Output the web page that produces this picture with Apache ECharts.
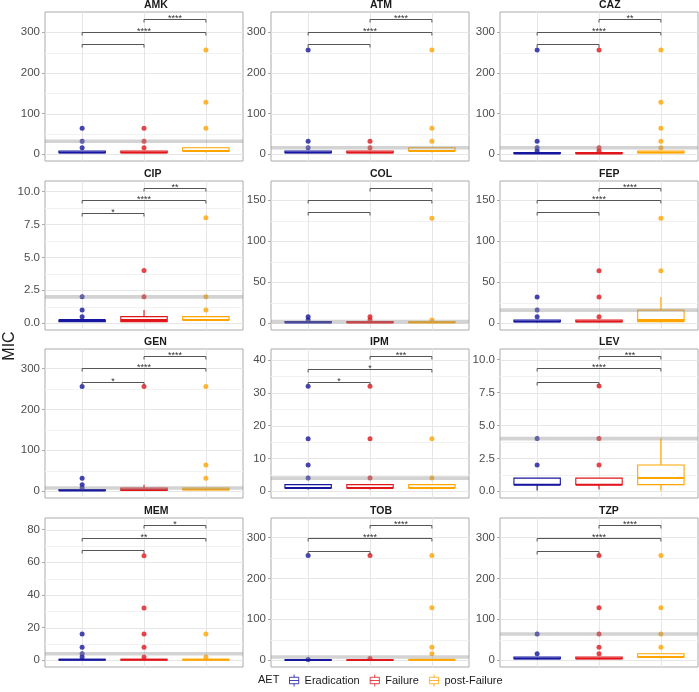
<!DOCTYPE html>
<html><head><meta charset="utf-8">
<script src="https://cdn.jsdelivr.net/npm/echarts@6/dist/echarts.min.js"></script>
<style>html,body{margin:0;padding:0;background:#fff}#c{width:699px;height:692px}</style>
</head><body><div id="c"></div>
<script>
const panels = ['AMK','ATM','CAZ','CIP','COL','FEP','GEN','IPM','LEV','MEM','TOB','TZP'];
const groups = ['Eradication','Failure','post-Failure'];
const groupColors = ['#16169e','#e0161b','#ffa500'];

// box statistics [min, Q1, median, Q3, max] per panel
const boxEradication = [
  [2,4,4,8,8],[2,4,4,8,8],[1,2,2,4,4],[0.125,0.125,0.25,0.25,0.25],[0.5,1,1,2,2],[1,2,2,4,4],
  [1,2,2,4,4],[0.5,1,1,2,2],[0.06,0.5,0.5,1,1],[0.06,0.125,0.25,0.5,1],[0.25,0.5,0.5,1,1],[2,4,4,8,8]];
const boxFailure = [
  [2,4,4,8,8],[2,4,4,8,8],[1,2,2,4,4],[0.125,0.125,0.25,0.5,1],[0.5,1,1,2,2],[1,2,2,4,4],
  [1,2,4,8,16],[0.5,1,1,2,2],[0.125,0.5,0.5,1,1],[0.06,0.125,0.25,0.5,1],[0.25,0.5,0.5,1,1],[2,4,4,8,8]];
const boxPostFailure = [
  [4,8,8,16,16],[4,8,8,16,16],[2,4,4,8,8],[0.25,0.25,0.25,0.5,0.5],[0.5,1,1,2,2],[1,2,4,16,32],
  [2,4,4,8,8],[0.5,1,1,2,2],[0.06,0.5,1,2,4],[0.06,0.125,0.25,0.5,1],[0.25,0.5,1,1,2],[4,8,8,16,16]];

// outlier points per panel
const outEradication = [[16,32,64],[16,32,256],[8,16,32,256],[0.5,1,2],[4,8],[8,16,32],
  [8,16,32,256],[4,8,16,32],[2,4],[2,4,8,16],[2,256],[16,64]];
const outFailure = [[16,32,64],[16,32],[8,16,256],[2,4],[4,8],[8,32,64],
  [256],[4,16,32],[2,4,8],[2,8,16,32,64],[4,256],[16,32,64,128,256]];
const outPostFailure = [[64,128,256],[32,64,256],[16,32,64,128,256],[1,2,8],[4,128],[64,128],
  [32,64,256],[4,16],[],[2,16],[16,32,128,256],[32,64,128,256]];

// clinical breakpoint line per panel
const breakpoints = [32,16,16,2,2,16,8,4,4,4,8,64];

// significance brackets: pairs (1-2, 1-3, 2-3), their heights and labels
const bracketPairs = [[1,2],[1,3],[2,3]];
const bracketY = [[270,300,333],[270,300,333],[270,300,333],[8.39,9.32,10.28],[135,150,165],[135,150,165],
  [268,300,331],[33.4,37.4,41.3],[8.34,9.35,10.3],[67.2,75,82.9],[268,299,331],[268,299,331]];
const bracketLabels = [['','****','****'],['','****','****'],['','****','**'],['*','****','**'],['','',''],['','****','****'],
  ['*','****','****'],['*','*','***'],['','****','***'],['','**','*'],['','****','****'],['','****','****']];

// y-axis ticks
const yTicks = [[0,100,200,300],[0,100,200,300],[0,100,200,300],[0,2.5,5,7.5,10],[0,50,100,150],[0,50,100,150],
  [0,100,200,300],[0,10,20,30,40],[0,2.5,5,7.5,10],[0,20,40,60,80],[0,100,200,300],[0,100,200,300]];
const yTickLabels = [['0','100','200','300'],['0','100','200','300'],['0','100','200','300'],['0.0','2.5','5.0','7.5','10.0'],
  ['0','50','100','150'],['0','50','100','150'],['0','100','200','300'],['0','10','20','30','40'],
  ['0.0','2.5','5.0','7.5','10.0'],['0','20','40','60','80'],['0','100','200','300'],['0','100','200','300']];
const yMinor = [[50,150,250],[50,150,250],[50,150,250],[1.25,3.75,6.25,8.75],[25,75,125],[25,75,125],
  [50,150,250],[5,15,25,35],[1.25,3.75,6.25,8.75],[10,30,50,70],[50,150,250],[50,150,250]];

// layout
const colLeft = [45, 271, 500];
const rowTop = [12, 181, 349, 518];
const gW = 198, gH = 149;
const FONT = '"Liberation Sans", Arial, sans-serif';

const chart = echarts.init(document.getElementById('c'), null, {renderer:'canvas'});

const grids = [], xAxes = [], yAxes = [], series = [], graphics = [];
const boxSets = [boxEradication, boxFailure, boxPostFailure];
const outSets = [outEradication, outFailure, outPostFailure];

function renderGridLines(params, api){
  const cs = params.coordSys;
  const kind = api.value(2);
  if (kind === 2) {
    const p = api.coord([api.value(0), 0]);
    const x = Math.round(p[0]) + 0.5;
    return {type:'line', shape:{x1:x, y1:cs.y, x2:x, y2:cs.y+cs.height}, style:{stroke:'#e6e6e6', lineWidth:1}};
  }
  const p = api.coord([2, api.value(1)]);
  const y = Math.round(p[1]) + 0.5;
  return {type:'line', shape:{x1:cs.x, y1:y, x2:cs.x+cs.width, y2:y},
    style:{stroke: kind === 1 ? '#e6e6e6' : '#f2f2f2', lineWidth: 1}};
}

function renderBox(params, api){
  const x = api.value(0);
  const g = api.value(6);
  const c = groupColors[g];
  const half = api.size([1, 0])[0] * 0.375;
  const pm = api.coord([x, api.value(3)]);
  const yMin = api.coord([x, api.value(1)])[1];
  const yQ1 = api.coord([x, api.value(2)])[1];
  const yQ3 = api.coord([x, api.value(4)])[1];
  const yMax = api.coord([x, api.value(5)])[1];
  return {type:'group', children:[
    {type:'line', shape:{x1:pm[0], y1:yMin, x2:pm[0], y2:yQ1}, style:{stroke:c, lineWidth:1.1}},
    {type:'line', shape:{x1:pm[0], y1:yQ3, x2:pm[0], y2:yMax}, style:{stroke:c, lineWidth:1.1}},
    {type:'rect', shape:{x:pm[0]-half, y:yQ3, width:2*half, height:Math.max(yQ1-yQ3, 0.5)}, style:{fill:'#fff', stroke:c, lineWidth:1.1}},
    {type:'line', shape:{x1:pm[0]-half, y1:pm[1], x2:pm[0]+half, y2:pm[1]}, style:{stroke:c, lineWidth:2}}
  ]};
}

function renderHline(params, api){
  const cs = params.coordSys;
  const p = api.coord([2, api.value(0)]);
  return {type:'rect', shape:{x:cs.x, y:p[1]-1.8, width:cs.width, height:3.6},
    style:{fill:'rgba(150,150,150,0.42)'}};
}

function makeBracketRenderer(pi){
  return function(params, api){
    const p1 = api.coord([api.value(0), api.value(2)]);
    const p2 = api.coord([api.value(1), api.value(2)]);
    const lab = bracketLabels[pi][params.dataIndex];
    const tip = 3;
    const y = Math.round(p1[1]) + 0.5;
    return {type:'group', children:[
      {type:'polyline', shape:{points:[[p1[0], y+tip],[p1[0], y],[p2[0], y],[p2[0], y+tip]]},
        style:{stroke:'#555', lineWidth:1, fill:null}},
      {type:'text', x:(p1[0]+p2[0])/2, y:y+4,
        style:{text:lab, align:'center', verticalAlign:'bottom', fontSize:9, fill:'#333', fontFamily:FONT}}
    ]};
  };
}

panels.forEach((name, i) => {
  const col = i % 3, row = Math.floor(i / 3);
  const top3 = bracketY[i][2];
  const ymin = -0.05 * top3, ymax = 1.05 * top3;
  grids.push({left: colLeft[col], top: rowTop[row], width: gW, height: gH, show: true,
    borderColor: '#ababab', borderWidth: 1, backgroundColor: 'transparent'});
  xAxes.push({gridIndex:i, type:'value', min:0.4, max:3.6,
    axisLine:{show:false}, axisLabel:{show:false}, splitLine:{show:false},
    axisTick:{show:true, customValues:[1,2,3], length:3, lineStyle:{color:'#ababab'}}});
  const ticks = yTicks[i], labs = yTickLabels[i];
  yAxes.push({gridIndex:i, type:'value', min:ymin, max:ymax,
    axisLine:{show:false}, splitLine:{show:false}, minorSplitLine:{show:false},
    axisTick:{show:true, customValues:ticks, length:3, lineStyle:{color:'#ababab'}},
    axisLabel:{customValues:ticks, color:'#4d4d4d', fontSize:11.5, margin:5, fontFamily:FONT,
      formatter: v => { const k = ticks.findIndex(t => Math.abs(t - v) < 1e-9); return k >= 0 ? labs[k] : ''; }}});

  const gridData = [];
  ticks.forEach(v => gridData.push([2, v, 1]));
  yMinor[i].forEach(v => gridData.push([2, v, 0]));
  [1,2,3].forEach(x => gridData.push([x, 0, 2]));
  series.push({type:'custom', xAxisIndex:i, yAxisIndex:i, z:1, silent:true, renderItem:renderGridLines, data:gridData});

  const boxData = [];
  boxSets.forEach((set, g) => boxData.push([g+1].concat(set[i]).concat([g])));
  series.push({type:'custom', xAxisIndex:i, yAxisIndex:i, z:2, silent:true, renderItem:renderBox, data:boxData});

  const outData = [];
  outSets.forEach((set, g) => set[i].forEach(v => outData.push({value:[g+1, v], itemStyle:{color:groupColors[g]}})));
  series.push({type:'scatter', xAxisIndex:i, yAxisIndex:i, z:3, silent:true, symbolSize:5, data:outData});

  series.push({type:'custom', xAxisIndex:i, yAxisIndex:i, z:4, silent:true, renderItem:renderHline, data:[[breakpoints[i]]]});

  series.push({type:'custom', xAxisIndex:i, yAxisIndex:i, z:5, silent:true, renderItem:makeBracketRenderer(i),
    data: bracketPairs.map((p, k) => [p[0], p[1], bracketY[i][k]])});

  graphics.push({type:'text', left: colLeft[col] + gW/2, top: rowTop[row] - 12,
    style:{text:name, fontSize:10.5, fontWeight:'bold', fill:'#1a1a1a', fontFamily:FONT, align:'center'}});
});

// legend dummy series
groups.forEach((g, k) => series.push({type:'scatter', name:g, xAxisIndex:0, yAxisIndex:0, data:[],
  itemStyle:{color:'#fff', borderColor:groupColors[k], borderWidth:1}}));

graphics.push({type:'text', rotation: Math.PI/2, x: 10, y: 346,
  style:{text:'MIC', fontSize:16, fill:'#1a1a1a', fontFamily:FONT, align:'center', verticalAlign:'middle'}});
graphics.push({type:'text', x: 258, y: 680,
  style:{text:'AET', fontSize:11, fill:'#1a1a1a', fontFamily:FONT, align:'left', verticalAlign:'middle'}});

chart.setOption({
  animation:false,
  backgroundColor:'#fff',
  grid:grids, xAxis:xAxes, yAxis:yAxes, series:series,
  legend:{left:289, top:674, padding:[0,0,0,0], itemWidth:11, itemHeight:12, itemGap:10, selectedMode:false,
    textStyle:{fontSize:11, color:'#1a1a1a', fontFamily:FONT},
    data: groups.map((g, k) => ({name:g, icon:'path://M1,3L11,3L11,10L1,10Z M1,6.5L11,6.5 M6,0L6,3 M6,10L6,13',
      itemStyle:{color:'#fff', borderColor:groupColors[k], borderWidth:1}}))},
  graphic:graphics
});
</script></body></html>
